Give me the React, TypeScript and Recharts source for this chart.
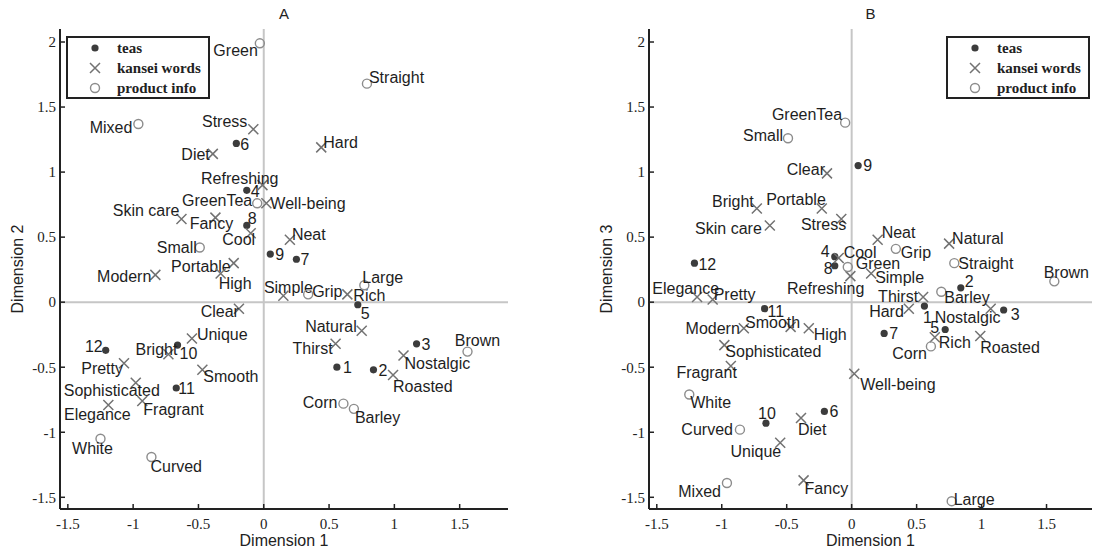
import React from "react";
import { ScatterChart, Scatter, XAxis, YAxis, ReferenceLine, Legend } from "recharts";

// three dimensions per item (dim 1 is shared)
const teaNames = ["1", "2", "3", "4", "5", "6", "7", "8", "9", "10", "11", "12"];
const teaDim1 = [0.56, 0.84, 1.17, -0.13, 0.72, -0.21, 0.25, -0.13, 0.05, -0.66, -0.67, -1.21];
const teaDim2 = [-0.5, -0.52, -0.32, 0.86, -0.02, 1.22, 0.33, 0.59, 0.37, -0.33, -0.66, -0.37];
const teaDim3 = [-0.03, 0.11, -0.06, 0.35, -0.21, -0.84, -0.24, 0.28, 1.05, -0.93, -0.05, 0.3];

const wordNames = [
  "Stress", "Diet", "Hard", "Refreshing", "Well-being", "Skin care", "Fancy", "Cool", "Neat",
  "Portable", "High", "Modern", "Simple", "Rich", "Clear", "Natural", "Thirst", "Nostalgic",
  "Roasted", "Unique", "Bright", "Pretty", "Smooth", "Sophisticated", "Fragrant", "Elegance",
];
const wordDim1 = [-0.08, -0.39, 0.44, -0.01, 0.02, -0.63, -0.37, -0.1, 0.2, -0.23, -0.33, -0.83, 0.15, 0.64, -0.19, 0.75, 0.55, 1.07, 0.99, -0.55, -0.73, -1.07, -0.47, -0.98, -0.93, -1.19];
const wordDim2 = [1.33, 1.14, 1.19, 0.9, 0.76, 0.64, 0.65, 0.53, 0.48, 0.3, 0.22, 0.21, 0.05, 0.06, -0.05, -0.22, -0.32, -0.41, -0.56, -0.28, -0.4, -0.47, -0.52, -0.62, -0.76, -0.79];
const wordDim3 = [0.64, -0.89, -0.05, 0.2, -0.55, 0.59, -1.37, 0.34, 0.48, 0.72, -0.2, -0.2, 0.22, -0.27, 0.99, 0.45, 0.04, -0.05, -0.26, -1.08, 0.72, 0.02, -0.19, -0.33, -0.49, 0.04];

const infoNames = ["Green", "Mixed", "Straight", "GreenTea", "Small", "Grip", "Large", "Brown", "Corn", "Barley", "White", "Curved"];
const infoDim1 = [-0.03, -0.96, 0.79, -0.05, -0.49, 0.34, 0.77, 1.56, 0.61, 0.69, -1.25, -0.86];
const infoDim2 = [1.99, 1.37, 1.68, 0.76, 0.42, 0.06, 0.13, -0.38, -0.78, -0.82, -1.05, -1.19];
const infoDim3 = [0.27, -1.39, 0.3, 1.38, 1.26, 0.41, -1.53, 0.16, -0.34, 0.08, -0.71, -0.98];

const seriesNames = ["teas", "kansei words", "product info"];
const xTicks = [-1.5, -1, -0.5, 0, 0.5, 1, 1.5];
const yTicks = [-1.5, -1, -0.5, 0, 0.5, 1, 1.5, 2];

// label placement: anchor (s/e/m), dx, dy in px from the marker
type Place = [string, number, number];
const labelsA: Record<string, Place> = {
  "1": ["s", 6, 0], "2": ["s", 5, 0], "3": ["s", 5, 0], "4": ["s", 4, 1], "5": ["s", 3, 8],
  "6": ["s", 4, 1], "7": ["s", 4, 0], "8": ["s", 1, -7], "9": ["s", 5, 0], "10": ["s", 2, 8],
  "11": ["s", 2, 0], "12": ["e", -3, -4],
  Stress: ["e", -6, -8], Diet: ["e", -3, 0], Hard: ["s", 2, -5], Refreshing: ["e", 16, -7],
  "Well-being": ["s", 4, 0], GreenTea: ["e", -5, -3], "Skin care": ["e", -2, -9], Fancy: ["m", -4, 6],
  Cool: ["m", -12, 6], Neat: ["s", 2, -5], Small: ["e", -3, 0], Portable: ["e", -3, 3],
  High: ["s", -2, 10], Modern: ["e", -4, 1], Simple: ["m", 5, -8], Grip: ["s", 4, -3],
  Rich: ["s", 6, 1], Large: ["s", -2, -8], Clear: ["e", 0, 3], Natural: ["e", -5, -5],
  Thirst: ["e", -3, 4], Nostalgic: ["s", 1, 8], Roasted: ["s", 0, 11], Brown: ["m", 10, -11],
  Corn: ["e", -6, -1], Barley: ["s", 1, 8], Unique: ["s", 5, -4], Bright: ["e", 9, -5],
  Pretty: ["e", -1, 5], Smooth: ["s", 1, 6], Sophisticated: ["m", -24, 7], Fragrant: ["s", 1, 8],
  Elegance: ["m", -11, 9], White: ["m", -8, 9], Curved: ["s", -1, 9], Green: ["e", -2, 7],
  Mixed: ["e", -6, 3], Straight: ["s", 2, -6],
};
const labelsB: Record<string, Place> = {
  "1": ["m", 3, 11], "2": ["s", 4, -7], "3": ["s", 7, 4], "4": ["e", -5, -5], "5": ["e", -6, -2],
  "6": ["s", 5, 0], "7": ["s", 5, 0], "8": ["e", -2, 2], "9": ["s", 5, 0], "10": ["m", 1, -10],
  "11": ["s", 3, 3], "12": ["s", 4, 1],
  Clear: ["e", -2, -4], Bright: ["e", -3, -7], Portable: ["e", 4, -9], "Skin care": ["e", -8, 3],
  Stress: ["e", 5, 5], Cool: ["s", 5, -6], Green: ["s", 8, -4], Neat: ["s", 4, -7],
  Grip: ["s", 5, 3], Natural: ["s", 3, -5], Straight: ["s", 4, 0], Simple: ["s", 4, 4],
  Refreshing: ["e", 14, 12], Thirst: ["e", -5, -1], Barley: ["s", 3, 5], Hard: ["e", -5, 3],
  Nostalgic: ["s", -56, 9], Rich: ["s", 4, 5], Corn: ["e", -4, 7], Roasted: ["s", 0, 11],
  Brown: ["m", 12, -9], "Well-being": ["s", 6, 11], Diet: ["s", -3, 11], Fancy: ["s", 1, 8],
  Unique: ["e", 1, 9], Modern: ["e", -4, 0], Smooth: ["m", -18, -5], High: ["s", 5, 6],
  Sophisticated: ["s", 1, 6], Fragrant: ["e", 6, 6], Elegance: ["e", 22, -9], Pretty: ["s", 1, -5],
  White: ["s", 1, 8], Curved: ["e", -7, 0], Mixed: ["e", -6, 8], GreenTea: ["e", -3, -8],
  Small: ["e", -5, -3], Large: ["s", 2, -2],
};

const SANS = "'Liberation Sans', Arial, sans-serif";
const SERIF = "'Liberation Serif', 'Times New Roman', serif";
const INK = "#222";

const rows = (names: string[], xs: number[], ys: number[]) =>
  names.map((name, i) => ({ name, x: xs[i], y: ys[i] }));

const kindOf = (series: string) =>
  series === "teas" ? "teas" : series === "kansei words" ? "words" : "info";

function Marker({ kind, cx, cy }: { kind: string; cx: number; cy: number }) {
  if (kind === "teas") return <circle cx={cx} cy={cy} r={3.6} fill="#3c3c3c" />;
  if (kind === "words")
    return (
      <path
        d={`M${cx - 5},${cy - 5}L${cx + 5},${cy + 5}M${cx - 5},${cy + 5}L${cx + 5},${cy - 5}`}
        stroke="#727272"
        strokeWidth={1.5}
        fill="none"
      />
    );
  return <circle cx={cx} cy={cy} r={4.5} fill="none" stroke="#8c8c8c" strokeWidth={1.4} />;
}

const labeled = (kind: string, labels: Record<string, Place>) => (p: any) => {
  const { cx, cy, payload } = p;
  const [a, dx, dy] = labels[payload.name] || ["s", 5, 0];
  return (
    <g>
      <Marker kind={kind} cx={cx} cy={cy} />
      <text
        x={cx + dx}
        y={cy + dy}
        dy="0.36em"
        textAnchor={a === "s" ? "start" : a === "e" ? "end" : "middle"}
        fontSize={16}
        fontFamily={SANS}
        fill="#1e1e1e"
      >
        {payload.name}
      </text>
    </g>
  );
};

function LegendBox({ payload }: any) {
  const items = [...(payload || [])].sort(
    (a: any, b: any) => seriesNames.indexOf(a.value) - seriesNames.indexOf(b.value)
  );
  return (
    <div
      style={{
        width: 144, height: 63, border: `2px solid ${INK}`, boxSizing: "border-box", background: "#fff",
        position: "relative", fontFamily: SERIF, fontWeight: 700, fontSize: 15, color: INK,
      }}
    >
      {items.map((e: any, i: number) => (
        <div key={i} style={{ position: "absolute", left: 0, top: i * 20, height: 20, display: "flex", alignItems: "center" }}>
          <svg width={49} height={20} style={{ display: "block" }}>
            <Marker kind={kindOf(e.value)} cx={27} cy={10} />
          </svg>
          <span style={{ whiteSpace: "nowrap" }}>{e.value}</span>
        </div>
      ))}
    </div>
  );
}

function Panel(props: {
  title: string; ylabel: string; left: number; width: number; marginLeft: number; marginRight: number;
  xMax: number; legendLeft: number; teaY: number[]; wordY: number[]; infoY: number[];
  labels: Record<string, Place>;
}) {
  const { title, ylabel, left, width, marginLeft, marginRight, xMax, legendLeft, labels } = props;
  const xDomain: [number, number] = [-1.56, xMax];
  const yDomain: [number, number] = [-1.59, 2.1];
  const frame = { stroke: INK, strokeWidth: 2 };
  const tickLine = { stroke: INK, strokeWidth: 1.5 };
  const tick = { fontSize: 15, fontFamily: SERIF, fill: INK };
  const plotLeft = marginLeft + 60;
  const plotCenter = plotLeft + (width - marginRight - plotLeft) / 2;
  return (
    <div style={{ position: "absolute", left, top: 0, width, height: 549 }}>
      <div
        style={{
          position: "absolute", left: plotCenter - 50, width: 100, top: 4, lineHeight: "20px",
          textAlign: "center", fontFamily: SANS, fontSize: 15, color: INK,
        }}
      >
        {title}
      </div>
      <ScatterChart width={width} height={549} margin={{ top: 29, right: marginRight, bottom: 0, left: marginLeft }}>
        <XAxis
          type="number" dataKey="x" domain={xDomain} ticks={xTicks} allowDataOverflow interval={0}
          height={40} tickSize={-5} tickMargin={14} axisLine={frame} tickLine={tickLine} tick={tick}
          label={{ value: "Dimension 1", position: "insideBottom", offset: 3, fontSize: 16, fill: INK, fontFamily: SANS }}
        />
        <YAxis
          type="number" dataKey="y" domain={yDomain} ticks={yTicks} allowDataOverflow interval={0}
          width={60} tickSize={-5} tickMargin={9} axisLine={frame} tickLine={tickLine} tick={tick}
          label={{
            value: ylabel, angle: -90, position: "insideLeft", offset: 17, fontSize: 16, fill: INK,
            fontFamily: SANS, style: { textAnchor: "middle" },
          }}
        />
        <XAxis
          xAxisId="top" orientation="top" type="number" domain={xDomain} ticks={xTicks} allowDataOverflow
          interval={0} height={0} tickSize={-5} axisLine={frame} tickLine={tickLine} tick={false}
        />
        <YAxis
          yAxisId="right" orientation="right" type="number" domain={yDomain} ticks={yTicks} allowDataOverflow
          interval={0} width={0} tickSize={-5} axisLine={frame} tickLine={tickLine} tick={false}
        />
        <ReferenceLine x={0} stroke="#c6c6c6" strokeWidth={2} />
        <ReferenceLine y={0} stroke="#c6c6c6" strokeWidth={2} />
        <Legend
          layout="horizontal" verticalAlign="middle" align="center"
          wrapperStyle={{ left: legendLeft, top: 36, width: 144, height: 63 }}
          content={<LegendBox />}
        />
        <Scatter name="teas" data={rows(teaNames, teaDim1, props.teaY)} shape={labeled("teas", labels)} isAnimationActive={false} />
        <Scatter name="kansei words" data={rows(wordNames, wordDim1, props.wordY)} shape={labeled("words", labels)} isAnimationActive={false} />
        <Scatter name="product info" data={rows(infoNames, infoDim1, props.infoY)} shape={labeled("info", labels)} isAnimationActive={false} />
      </ScatterChart>
    </div>
  );
}

export default function App() {
  return (
    <div style={{ position: "absolute", left: 0, top: 0, width: 1093, height: 549, background: "#fff", overflow: "hidden" }}>
      <Panel
        title="A" ylabel="Dimension 2" left={0} width={540} marginLeft={0} marginRight={32} xMax={1.87}
        legendLeft={66} teaY={teaDim2} wordY={wordDim2} infoY={infoDim2} labels={labelsA}
      />
      <Panel
        title="B" ylabel="Dimension 3" left={546} width={547} marginLeft={43} marginRight={1} xMax={1.85}
        legendLeft={400} teaY={teaDim3} wordY={wordDim3} infoY={infoDim3} labels={labelsB}
      />
    </div>
  );
}
